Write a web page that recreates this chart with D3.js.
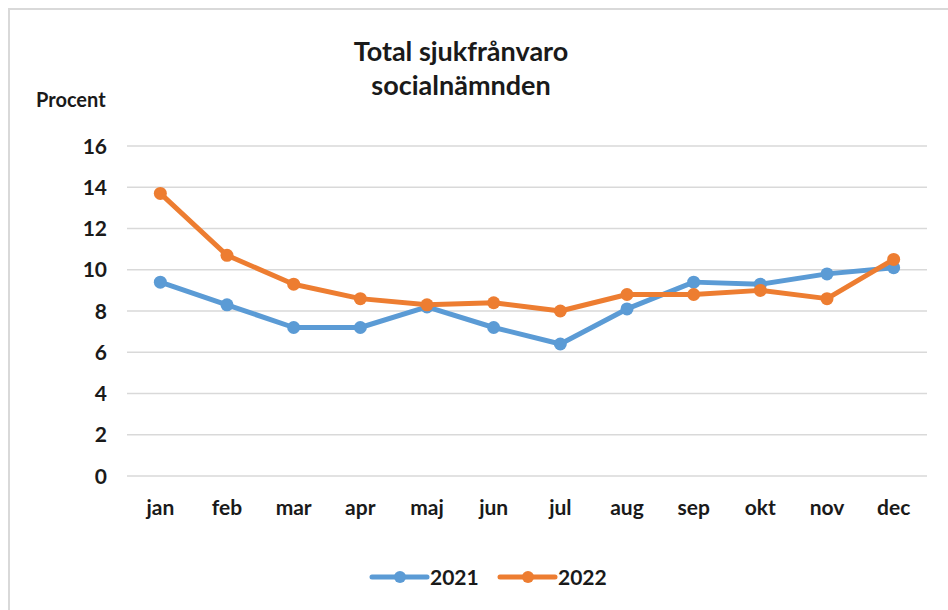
<!DOCTYPE html>
<html><head><meta charset="utf-8">
<script src="https://cdn.jsdelivr.net/npm/d3@7"></script>
<style>
body{margin:0;background:#fff;}
text{font-family:Lato,"Liberation Sans",sans-serif;font-weight:700;fill:#1a1a1a;}
</style></head>
<body><svg id="c" width="948" height="610"></svg>
<script>
const months = ["jan","feb","mar","apr","maj","jun","jul","aug","sep","okt","nov","dec"];
const v2021 = [9.4,8.3,7.2,7.2,8.2,7.2,6.4,8.1,9.4,9.3,9.8,10.1];
const v2022 = [13.7,10.7,9.3,8.6,8.3,8.4,8.0,8.8,8.8,9.0,8.6,10.5];
const yTicks = [0,2,4,6,8,10,12,14,16];
const seriesNames = ["2021","2022"];
const colors = ["#5b9bd5","#ed7d31"];

const svg = d3.select("#c");
svg.append("rect").attr("x",9).attr("y",9).attr("width",960).attr("height",620)
  .attr("fill","#fff").attr("stroke","#d9d9d9").attr("stroke-width",2);

const x = d3.scaleBand().domain(months).range([127,927]);
const y = d3.scaleLinear().domain([0,16]).range([476,146]);

svg.append("g").selectAll("line").data(yTicks).join("line")
  .attr("x1",127).attr("x2",927).attr("y1",d=>y(d)).attr("y2",d=>y(d))
  .attr("stroke","#d9d9d9").attr("stroke-width",1.5);

svg.append("g").selectAll("text").data(yTicks).join("text")
  .attr("x",107).attr("y",d=>y(d)).attr("dy","0.36em").attr("text-anchor","end")
  .attr("font-size",21).text(d=>d);

svg.append("g").selectAll("text").data(months).join("text")
  .attr("x",d=>x(d)+x.bandwidth()/2).attr("y",507).attr("dy","0.36em")
  .attr("text-anchor","middle").attr("font-size",21).text(d=>d);

svg.append("text").attr("x",36).attr("y",100).attr("dy","0.36em").attr("font-size",20).text("Procent");
svg.append("text").attr("x",461).attr("y",51).attr("dy","0.36em").attr("text-anchor","middle").attr("font-size",27).text("Total sjukfrånvaro");
svg.append("text").attr("x",461).attr("y",85).attr("dy","0.36em").attr("text-anchor","middle").attr("font-size",27).text("socialnämnden");

const line = d3.line().x((d,i)=>x(months[i])+x.bandwidth()/2).y(d=>y(d));
[v2021,v2022].forEach((vals,k)=>{
  const g = svg.append("g");
  g.append("path").datum(vals).attr("d",line).attr("fill","none")
    .attr("stroke",colors[k]).attr("stroke-width",5).attr("stroke-linejoin","round").attr("stroke-linecap","round");
  g.selectAll("circle").data(vals).join("circle")
    .attr("cx",(d,i)=>x(months[i])+x.bandwidth()/2).attr("cy",d=>y(d)).attr("r",6.5).attr("fill",colors[k]);
});

const leg = svg.append("g");
const legX = [372,500];
seriesNames.forEach((n,k)=>{
  leg.append("line").attr("x1",legX[k]).attr("x2",legX[k]+55).attr("y1",577).attr("y2",577)
    .attr("stroke",colors[k]).attr("stroke-width",5).attr("stroke-linecap","round");
  leg.append("circle").attr("cx",legX[k]+28).attr("cy",577).attr("r",6).attr("fill",colors[k]);
  leg.append("text").attr("x",legX[k]+58).attr("y",577).attr("dy","0.36em").attr("font-size",21).text(n);
});
</script></body></html>
